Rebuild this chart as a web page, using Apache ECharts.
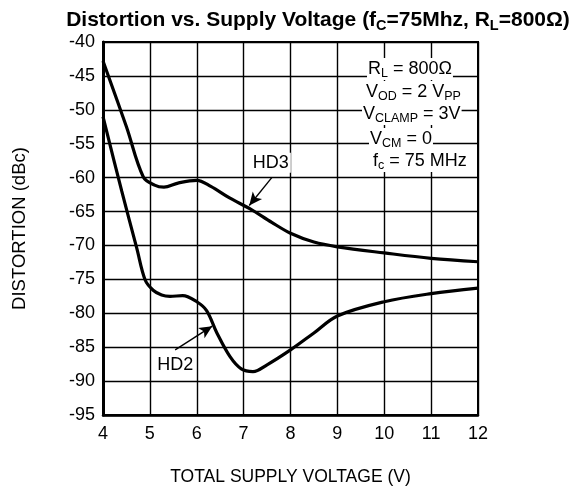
<!DOCTYPE html>
<html>
<head>
<meta charset="utf-8">
<style>
  html, body { margin: 0; padding: 0; background: #fff; }
  #chart { width: 576px; height: 487px; }
</style>
<script src="https://cdn.jsdelivr.net/npm/echarts@6/dist/echarts.min.js"></script>
</head>
<body>
<div id="chart"></div>
<script>
// supply voltage (V) vs distortion (dBc)
const hd3Volts = [4, 4.5, 4.86, 5.1, 5.3, 5.6, 6.0, 6.3, 6.7, 7.14, 7.6, 8, 8.5, 9, 10, 11, 12];
const hd3Dbc = [-42.8, -52.5, -59.9, -61.1, -61.4, -60.8, -60.4, -61.3, -63.0, -64.6, -66.6, -68.2, -69.5, -70.2, -71.1, -71.9, -72.4];

const hd2Volts = [4, 4.4, 4.72, 4.9, 5.07, 5.25, 5.43, 5.7, 6.0, 6.21, 6.43, 6.71, 6.95, 7.2, 7.5, 8, 8.5, 9, 10, 11, 12];
const hd2Dbc = [-51, -62.0, -70.4, -75.1, -76.6, -77.3, -77.5, -77.4, -78.3, -79.6, -82.9, -86.4, -88.2, -88.6, -87.6, -85.4, -82.9, -80.4, -78.3, -77.1, -76.3];

const xTicks = [4, 5, 6, 7, 8, 9, 10, 11, 12];
const yTicks = [-40, -45, -50, -55, -60, -65, -70, -75, -80, -85, -90, -95];

// curve labels and their arrows [from, to] in data units
const hd3Arrow = [[7.6, -60.0], [7.12, -64.1]];
const hd2Arrow = [[5.54, -85.4], [6.33, -81.9]];
const hd3Label = [7.58, -57.8];
const hd2Label = [5.54, -87.6];

const conditionLines = [
  'R{s|L} = 800Ω',
  'V{s|OD} = 2 V{s|PP}',
  'V{s|CLAMP} = 3V',
  'V{s|CM} = 0',
  'f{s|c} = 75 MHz'
];

const FONT = '"Liberation Sans", Arial, sans-serif';
const chart = echarts.init(document.getElementById('chart'));

const curveStyle = { width: 3.2, color: '#000' };
const arrowLine = (pts) => ({
  silent: true,
  symbol: ['none', 'arrow'],
  symbolSize: [9, 13],
  lineStyle: { color: '#000', width: 1.4, type: 'solid' },
  label: { show: false },
  animation: false,
  data: [[{ coord: pts[0] }, { coord: pts[1] }]]
});
const curveLabel = (text, pos) => ({
  silent: true,
  symbol: 'rect',
  symbolSize: 1,
  itemStyle: { color: 'rgba(0,0,0,0)' },
  animation: false,
  label: {
    show: true, position: 'inside', formatter: text,
    color: '#000', fontSize: 18, fontFamily: FONT,
    backgroundColor: '#fff', padding: [1, 2]
  },
  data: [{ coord: pos, value: text }]
});

chart.setOption({
  animation: false,
  backgroundColor: '#fff',
  title: {
    text: 'Distortion vs. Supply Voltage (f{s|C}=75Mhz, R{s|L}=800Ω)',
    left: 313, top: 3, textAlign: 'center',
    textStyle: {
      fontFamily: FONT, fontSize: 21, fontWeight: 'bold', color: '#000',
      rich: { s: { fontSize: 14.5, fontWeight: 'bold', fontFamily: FONT, verticalAlign: 'bottom', padding: [10, 0, 0, 0] } }
    }
  },
  grid: {
    left: 103, right: 98, top: 42, bottom: 72,
    outerBoundsMode: 'none',
    containLabel: false,
    show: true, borderColor: '#000', borderWidth: 2
  },
  xAxis: {
    type: 'value', min: 4, max: 12, interval: 1,
    name: 'TOTAL SUPPLY VOLTAGE (V)', nameLocation: 'middle', nameGap: 53,
    nameTextStyle: { fontFamily: FONT, fontSize: 17.5, color: '#000' },
    axisLine: { show: true, lineStyle: { color: '#000', width: 2.5 } },
    axisTick: { show: false },
    axisLabel: {
      fontFamily: FONT, fontSize: 18, color: '#000', margin: 10,
      formatter: (v) => (xTicks.includes(v) ? String(v) : '')
    },
    splitLine: { show: true, lineStyle: { color: '#000', width: 1.4 } }
  },
  yAxis: {
    type: 'value', min: -95, max: -40, interval: 5,
    name: 'DISTORTION (dBc)', nameLocation: 'middle', nameGap: 74, nameRotate: 90,
    nameTextStyle: { fontFamily: FONT, fontSize: 18.5, color: '#000' },
    axisLine: { show: true, lineStyle: { color: '#000', width: 3 } },
    axisTick: { show: false },
    axisLabel: {
      fontFamily: FONT, fontSize: 18, color: '#000', margin: 8,
      formatter: (v) => (yTicks.includes(v) ? String(v) : '')
    },
    splitLine: { show: true, lineStyle: { color: '#000', width: 1.4 } }
  },
  series: [
    {
      name: 'HD3', type: 'line', smooth: 0.35, symbol: 'none',
      data: hd3Volts.map((v, i) => [v, hd3Dbc[i]]),
      lineStyle: curveStyle,
      markLine: arrowLine(hd3Arrow),
      markPoint: curveLabel('HD3', hd3Label),
      z: 5
    },
    {
      name: 'HD2', type: 'line', smooth: 0.35, symbol: 'none',
      data: hd2Volts.map((v, i) => [v, hd2Dbc[i]]),
      lineStyle: curveStyle,
      markLine: arrowLine(hd2Arrow),
      markPoint: curveLabel('HD2', hd2Label),
      z: 5
    }
  ],
  graphic: conditionLines.map((t, i) => ({
    type: 'text',
    left: [367, 365, 362, 369, 372][i],
    top: [58, 81, 103, 128, 150][i],
    z: 10,
    style: {
      text: t,
      fill: '#000',
      font: '18px ' + FONT,
      backgroundColor: '#fff',
      padding: [0, 1],
      rich: { s: { fontSize: 12.5, fontFamily: FONT, verticalAlign: 'bottom', padding: [9, 0, 0, 0] } }
    }
  }))
});
</script>
</body>
</html>
